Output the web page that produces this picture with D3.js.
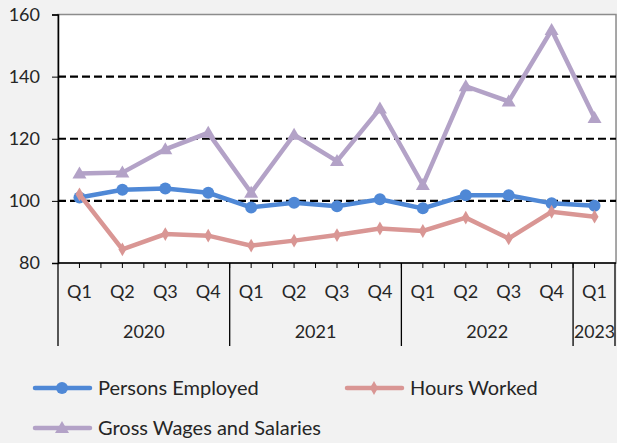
<!DOCTYPE html>
<html>
<head>
<meta charset="utf-8">
<script src="https://cdn.jsdelivr.net/npm/d3@7"></script>
<style>
  html, body { margin: 0; padding: 0; background: #f2f2f2; }
  svg { display: block; font-family: Lato, "Open Sans", sans-serif; }
</style>
</head>
<body>
<div id="chart"></div>
<script>
// data
const quarters = ["Q1", "Q2", "Q3", "Q4", "Q1", "Q2", "Q3", "Q4", "Q1", "Q2", "Q3", "Q4", "Q1"];
const years = [
  {label: "2020", from: 0, to: 4},
  {label: "2021", from: 4, to: 8},
  {label: "2022", from: 8, to: 12},
  {label: "2023", from: 12, to: 13}
];
const personsEmployed = [101.1, 103.6, 104.0, 102.6, 97.9, 99.4, 98.3, 100.5, 97.6, 101.8, 101.8, 99.2, 98.4];
const hoursWorked = [102.1, 84.4, 89.3, 88.8, 85.6, 87.2, 89.0, 91.1, 90.3, 94.6, 87.9, 96.5, 94.9];
const grossWages = [108.8, 109.1, 116.6, 121.9, 102.6, 121.3, 112.8, 129.7, 105.1, 136.9, 132.0, 155.0, 126.7];
const yTicks = [80, 100, 120, 140, 160];
const gridValues = [100, 120, 140];

const series = [
  {name: "Persons Employed", values: personsEmployed, color: "#4f88d6", marker: "circle"},
  {name: "Hours Worked", values: hoursWorked, color: "#d99694", marker: "diamond"},
  {name: "Gross Wages and Salaries", values: grossWages, color: "#b3a2c7", marker: "triangle"}
];

// layout
const width = 617, height = 443;
const plotLeft = 58, plotRight = 616, plotTop = 14.5, plotBottom = 263;
const labelColor = "#262626";

const svg = d3.select("#chart")
  .append("svg")
  .attr("width", width)
  .attr("height", height);

const x = d3.scaleBand()
  .domain(d3.range(quarters.length))
  .range([plotLeft, plotRight]);

const y = d3.scaleLinear()
  .domain([80, 160])
  .range([plotBottom, plotTop]);

// plot area
svg.append("rect")
  .attr("x", plotLeft).attr("y", plotTop)
  .attr("width", plotRight - plotLeft).attr("height", plotBottom - plotTop)
  .attr("fill", "white")
  .attr("stroke", "#8c8c8c")
  .attr("stroke-width", 1.5);

// dashed gridlines
svg.append("g")
  .selectAll("line")
  .data(gridValues)
  .join("line")
  .attr("x1", plotLeft).attr("x2", plotRight)
  .attr("y1", d => y(d)).attr("y2", d => y(d))
  .attr("stroke", "black")
  .attr("stroke-width", 2.2)
  .attr("stroke-dasharray", "8,4");

// y axis
const yAxis = svg.append("g")
  .attr("transform", `translate(${plotLeft},0)`)
  .call(d3.axisLeft(y).tickValues(yTicks).tickSize(6).tickPadding(12));
yAxis.select(".domain").attr("stroke", "black").attr("stroke-width", 1.5);
yAxis.selectAll(".tick line").attr("stroke", "black");
yAxis.selectAll(".tick text")
  .attr("font-size", 18)
  .attr("fill", labelColor)
  .attr("font-family", "Lato, sans-serif");

// x axis line
svg.append("line")
  .attr("x1", plotLeft).attr("x2", plotRight)
  .attr("y1", plotBottom).attr("y2", plotBottom)
  .attr("stroke", "black").attr("stroke-width", 1.5);

// small ticks at centres and boundaries
const halfSteps = d3.range(1, quarters.length * 2);
svg.append("g")
  .selectAll("line")
  .data(halfSteps)
  .join("line")
  .attr("x1", d => plotLeft + d * x.bandwidth() / 2)
  .attr("x2", d => plotLeft + d * x.bandwidth() / 2)
  .attr("y1", plotBottom).attr("y2", plotBottom + 5)
  .attr("stroke", "black");

// year separators
const sepIdx = [0, 4, 8, 12, 13];
svg.append("g")
  .selectAll("line")
  .data(sepIdx)
  .join("line")
  .attr("x1", d => d < quarters.length ? x(d) : plotRight - 1)
  .attr("x2", d => d < quarters.length ? x(d) : plotRight - 1)
  .attr("y1", plotBottom).attr("y2", 346)
  .attr("stroke", "black").attr("stroke-width", 1.3);

// quarter labels
svg.append("g")
  .selectAll("text")
  .data(quarters)
  .join("text")
  .attr("x", (d, i) => x(i) + x.bandwidth() / 2)
  .attr("y", 298)
  .attr("text-anchor", "middle")
  .attr("font-size", 18)
  .attr("fill", labelColor)
  .text(d => d);

// year labels
svg.append("g")
  .selectAll("text")
  .data(years)
  .join("text")
  .attr("x", d => (x(d.from) + (d.to < quarters.length ? x(d.to) : plotRight)) / 2)
  .attr("y", 338)
  .attr("text-anchor", "middle")
  .attr("font-size", 18)
  .attr("fill", labelColor)
  .attr("textLength", d => d.to - d.from === 1 ? 41 : null)
  .attr("lengthAdjust", "spacingAndGlyphs")
  .text(d => d.label);

// markers
function drawMarker(g, type, color) {
  if (type === "circle") {
    g.append("circle").attr("r", 6).attr("fill", color);
  } else if (type === "diamond") {
    g.append("path").attr("d", d3.symbol(d3.symbolDiamond, 55)()).attr("fill", color);
  } else {
    g.append("path").attr("d", "M0,-7L7,5L-7,5Z").attr("fill", color);
  }
}

const line = d3.line()
  .x((d, i) => x(i) + x.bandwidth() / 2)
  .y(d => y(d));

series.forEach(s => {
  const g = svg.append("g");
  g.append("path")
    .datum(s.values)
    .attr("d", line)
    .attr("fill", "none")
    .attr("stroke", s.color)
    .attr("stroke-width", 4.5)
    .attr("stroke-linejoin", "miter");
  g.selectAll("g")
    .data(s.values)
    .join("g")
    .attr("transform", (d, i) => `translate(${x(i) + x.bandwidth() / 2},${y(d)})`)
    .each(function() { drawMarker(d3.select(this), s.marker, s.color); });
});

// legend
const legendPos = [
  {x: 35, y: 388},
  {x: 347, y: 388},
  {x: 35, y: 428}
];
series.forEach((s, i) => {
  const p = legendPos[i];
  const g = svg.append("g").attr("transform", `translate(${p.x},${p.y})`);
  g.append("line")
    .attr("x1", 0).attr("x2", 55)
    .attr("y1", 0).attr("y2", 0)
    .attr("stroke", s.color).attr("stroke-width", 4.5)
    .attr("stroke-linecap", "round");
  const m = g.append("g").attr("transform", "translate(27,0)");
  drawMarker(m, s.marker, s.color);
  g.append("text")
    .attr("x", 63).attr("y", 7)
    .attr("font-size", 20)
    .attr("fill", labelColor)
    .text(s.name);
});
</script>
</body>
</html>
